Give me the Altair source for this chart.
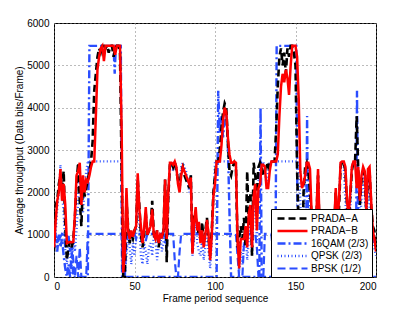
import altair as alt
import pandas as pd

# PRADA-A and PRADA-B sampled at every frame 0..200
frames = list(range(0, 201))
prada_a = [
    600, 1700, 1800, 2200, 2400, 2100, 2500, 1200, 400, 700,
    850, 700, 900, 1400, 2200, 2700, 1800, 1200, 2300, 1900,
    2100, 2300, 2500, 2730, 3200, 4400, 4800, 5200, 5400, 5300,
    5460, 5460, 5400, 5460, 5300, 5460, 5460, 5200, 5400, 5460,
    5460, 5300, 2500, 0, 0, 1800, 1200, 800, 1000, 900,
    1100, 1200, 2300, 1700, 1000, 700, 1000, 1500, 1000, 1100,
    1200, 1800, 1000, 900, 1100, 700, 1000, 900, 1100, 2300,
    350, 1900, 2650, 2730, 2600, 2730, 2500, 2300, 2100, 2500,
    2600, 2400, 2300, 2200, 2100, 2400, 600, 1500, 1400, 1200,
    1000, 900, 1300, 800, 1100, 1400, 900, 500, 1100, 2000,
    2400, 2730, 2730, 3000, 3500, 3900, 4100, 4000, 3200, 2500,
    2400, 2600, 2700, 2600, 700, 900, 1200, 900, 1400, 700,
    2500, 1200, 2000, 500, 2700, 2400, 2000, 2600, 2700, 2600,
    2400, 2500, 2700, 2600, 2730, 2730, 2730, 2730, 3500, 4500,
    5200, 5400, 5000, 5300, 4800, 5400, 5200, 5460, 5460, 5300,
    5000, 2500, 1200, 0, 0, 2000, 2600, 2700, 2500, 2000,
    1500, 900, 700, 1400, 2400, 1000, 700, 900, 800, 1100,
    900, 700, 1000, 900, 1100, 2000, 1200, 1600, 2600, 2730,
    2700, 2500, 1700, 1300, 1900, 2500, 2730, 2730, 3800, 2500,
    1700, 2300, 2500, 2400, 1500, 2400, 2500, 1700, 1200, 1100,
    700,
]
prada_b = [
    700, 1300, 1800, 2000, 2550, 1800, 2200, 1700, 800, 820,
    820, 820, 830, 1500, 2400, 2500, 2700, 1700, 2400, 2000,
    2300, 2250, 2400, 2600, 2730, 2730, 3800, 4900, 5200, 5400,
    5460, 5100, 5460, 5460, 5460, 5460, 5460, 5460, 5250, 5460,
    5460, 5460, 3500, 100, 600, 2100, 1100, 900, 1100, 950,
    1100, 1200, 2450, 1600, 1200, 800, 1150, 1650, 1000, 1100,
    1200, 1600, 1000, 900, 1100, 800, 1000, 950, 1100, 2300,
    900, 2000, 2700, 2700, 2650, 2730, 2600, 2200, 2000, 2400,
    2600, 2500, 2400, 2300, 2200, 2350, 550, 1300, 1650, 1100,
    1300, 800, 1100, 700, 1000, 1350, 1000, 400, 1000, 1900,
    2200, 2730, 2730, 2730, 3100, 3700, 4000, 3900, 3300, 2900,
    2700, 2700, 2730, 2700, 900, 200, 900, 900, 900, 1200,
    700, 1500, 1700, 700, 1900, 2200, 1100, 2100, 2200, 2650,
    2650, 2600, 2100, 2100, 2500, 2730, 2730, 2730, 2730, 2900,
    3800, 4500, 4800, 4600, 4900, 4700, 4300, 5000, 5460, 5460,
    5460, 5200, 4200, 2500, 2100, 2200, 2400, 2700, 2700, 2550,
    1500, 900, 800, 1500, 2550, 1200, 800, 900, 700, 1200,
    1000, 800, 900, 1000, 1200, 2100, 1300, 1800, 2700, 2730,
    2730, 2600, 1800, 1400, 2000, 2600, 2730, 2730, 2100, 2600,
    1800, 2400, 2600, 2500, 1600, 2550, 2600, 1800, 1100, 900,
    600,
]

qam16_x = [0, 1, 2, 3, 4, 5, 6, 7, 8, 9, 10, 11, 12, 21, 22, 37, 37.7, 38.4, 41.5, 42.3,
           101, 102, 103, 104, 105, 106, 107, 108, 109, 110, 127.5, 128.3, 129, 137.5, 138.3,
           150.5, 151.5, 156.5, 157.2, 158, 187.5, 188.2, 189, 200]
qam16_y = [800, 900, 600, 1000, 700, 900, 500, 200, 0, 300, 0, 600, 0, 0, 5460, 5460, 4800, 5460, 5460, 0,
           0, 4400, 3400, 3800, 3300, 3700, 3900, 3100, 1500, 0, 0, 4000, 0, 0, 5460,
           5460, 0, 0, 3800, 0, 0, 4400, 0, 0]

qpsk_x = [0, 1, 2, 3, 4, 5, 6, 7, 8, 9, 10, 11, 12, 13, 14, 15, 16, 17, 18, 19, 20, 21, 42, 43, 44,
          45, 46, 47, 48, 49, 50, 51, 52, 53, 54, 55, 56, 57, 58, 59, 60, 61, 62, 63, 64, 65, 66,
          67, 68, 69, 70, 71, 72, 73, 74, 75, 76, 77, 78, 79, 80, 81, 82, 83, 84, 85, 86, 87, 88,
          89, 90, 91, 92, 93, 94, 95, 96, 97, 98, 99, 100, 113, 114, 115, 116, 117, 118, 119, 120,
          121, 122, 123, 124, 125, 126, 127, 128, 129, 130, 131, 132, 133, 134, 152, 153, 154, 155,
          156, 157, 158, 159, 160, 163, 164, 165, 170, 174, 175, 176, 178, 180, 182, 184, 185, 187,
          189, 190, 192, 194, 195, 197, 200]
qpsk_y = [600, 1000, 1600, 2000, 2650, 2000, 1500, 600, 300, 700, 500, 200, 900, 600, 1100, 1800, 2500,
          2000, 1500, 2100, 2500, 2730, 2730, 300, 0,
          500, 1000, 700, 300, 800, 500, 900, 2300, 1200, 500, 300, 800, 600, 300, 700, 800, 500,
          1000, 900, 400, 700, 1000,
          600, 800, 1800, 500, 1900, 2600, 2730, 2500, 2730, 2600, 2300, 2100, 2600, 2700, 2600,
          2500, 2300, 2000, 2400, 500, 900, 1400,
          800, 600, 500, 900, 400, 700, 1000, 600, 200, 800, 1800, 2730, 2730, 800, 100, 600, 300,
          800, 1000, 400,
          900, 1300, 500, 1500, 2000, 800, 2300, 2500, 2600, 2730, 2500, 2200, 2500, 2730, 2730,
          1800, 200, 800,
          2500, 2700, 2600, 1200, 500, 800, 2400, 600, 700, 900, 2000, 900, 2700, 2600, 1000, 1500,
          2600, 2730,
          2500, 1200, 2500, 1300, 2400, 1000, 500]

bpsk_x = [0, 1, 2, 3, 4, 5, 6, 7, 8, 9, 10, 11, 12, 13, 14, 15, 16, 17, 20, 21, 42, 43, 44, 45, 46,
          50, 51, 52, 56, 57, 58, 62, 63, 64, 68, 69, 70, 74, 75, 76, 77, 78, 79, 85, 86, 87, 92,
          93, 94, 113, 114, 115, 117, 118, 119, 120, 121, 125, 126, 127, 130, 131, 135, 136, 137,
          152, 153, 155, 156, 170, 171, 172, 180, 181, 183, 184, 186, 187, 189, 190, 197, 198, 199,
          200]
bpsk_y = [900, 1000, 800, 1020, 950, 1020, 1000, 700, 900, 1020, 600, 800, 400, 0, 500, 0, 700, 0, 0,
          1020, 1020, 0, 0, 800, 1020,
          1020, 900, 1020, 1020, 850, 1020, 1020, 950, 1020, 1020, 800, 1020, 1020, 400, 0, 0, 600,
          1020, 1020, 700, 1020, 1020,
          900, 1020, 1020, 500, 0, 0, 800, 1020, 900, 1020, 1020, 700, 0, 0, 1020, 1020, 600, 1020,
          1020, 0, 0, 1020, 1020, 800, 1020, 1020, 0, 0, 1020, 1020, 0, 0, 1020, 1020, 800, 1020,
          1000]

names = ["PRADA\u2212A", "PRADA\u2212B", "16QAM (2/3)", "QPSK (2/3)", "BPSK (1/2)"]
colors = ["#000000", "#ff0000", "#2a4dff", "#2a4dff", "#2a4dff"]
dashes = [[7, 4], [1, 0], [8, 3, 2, 3], [1, 2.5], [8, 4]]
widths = [2.6, 2.2, 0.9, 0.9, 0.9]

rows = []
for x, y in zip(frames, prada_a):
    rows.append({"x": x, "y": y, "s": names[0]})
for x, y in zip(frames, prada_b):
    rows.append({"x": x, "y": y, "s": names[1]})
for x, y in zip(qam16_x, qam16_y):
    rows.append({"x": x, "y": y, "s": names[2]})
for x, y in zip(qpsk_x, qpsk_y):
    rows.append({"x": x, "y": y, "s": names[3]})
for x, y in zip(bpsk_x, bpsk_y):
    rows.append({"x": x, "y": y, "s": names[4]})
df = pd.DataFrame(rows)

FONT = "Liberation Sans"

legend = alt.Legend(
    orient="none", legendX=217, legendY=186, title=None,
    fillColor="white", strokeColor="black", padding=3,
    labelFont=FONT, labelFontSize=10, labelColor="black",
    symbolType="M-3,0L3,0", symbolSize=100, symbolOffset=12,
    rowPadding=0.5, labelOffset=12,
)

base = alt.Chart(df).mark_line(clip=True).encode(
    x=alt.X("x:Q", scale=alt.Scale(domain=[0, 200], nice=False),
            axis=alt.Axis(values=[0, 50, 100, 150, 200], title="Frame period sequence",
                          format="d",
                          grid=True, gridDash=[1, 3], gridColor="#777", tickSize=0,
                          labelPadding=4, titlePadding=2, domain=False)),
    y=alt.Y("y:Q", scale=alt.Scale(domain=[0, 6000], nice=False),
            axis=alt.Axis(values=[0, 1000, 2000, 3000, 4000, 5000, 6000],
                          title="Average throughput (Data bits/Frame)", format="d",
                          grid=True, gridDash=[1, 3], gridColor="#777", tickSize=0,
                          labelPadding=5, titlePadding=2, domain=False)),
    color=alt.Color("s:N", scale=alt.Scale(domain=names, range=colors), legend=legend),
    strokeDash=alt.StrokeDash("s:N", scale=alt.Scale(domain=names, range=dashes), legend=legend),
    strokeWidth=alt.StrokeWidth("s:N", scale=alt.Scale(domain=names, range=widths), legend=legend),
    detail="s:N",
)

layers = [base.transform_filter(alt.datum.s == n) for n in [names[2], names[3], names[4], names[0], names[1]]]

chart = alt.layer(*layers).properties(
    width=322, height=254,
    autosize=alt.AutoSizeParams(type="none"),
    padding={"left": 46, "top": 15, "right": 31, "bottom": 28},
).configure_view(stroke="black", strokeWidth=1).configure_axis(
    labelFont=FONT, labelFontSize=10, labelColor="black",
    titleFont=FONT, titleFontSize=10, titleColor="black", titleFontWeight="normal",
)

chart.save("out.html", embed_options={"renderer": "svg", "actions": False})
